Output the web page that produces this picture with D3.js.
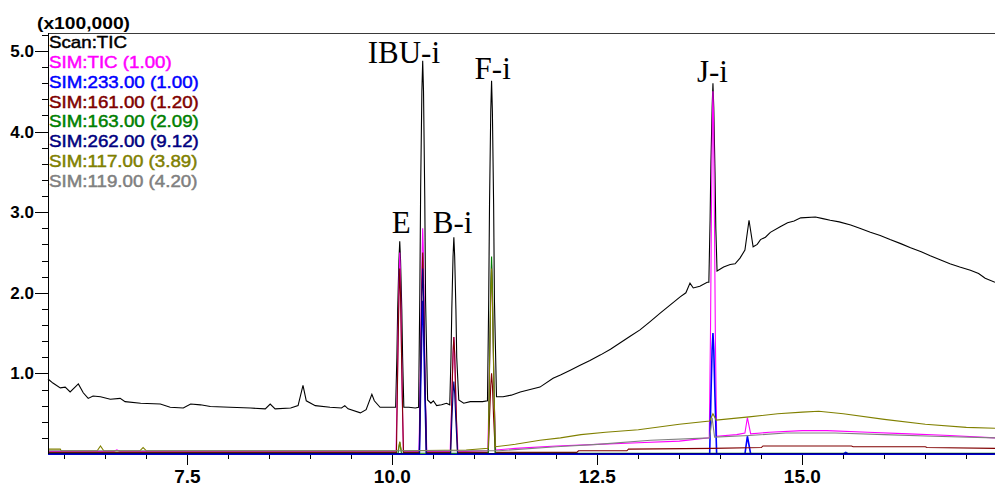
<!DOCTYPE html>
<html>
<head>
<meta charset="utf-8">
<script src="https://cdn.jsdelivr.net/npm/d3@7"></script>
<style>
  body { margin: 0; background: #fff; }
  svg { display: block; }
</style>
</head>
<body>
<svg id="chart" width="995" height="486"></svg>
<script>
// Chromatogram traces: [retention time (min), intensity (x100,000)]
const scanTIC = [
  [5.80,0.93],[5.86,0.88],[5.95,0.82],[6.01,0.83],[6.07,0.77],[6.13,0.83],[6.17,0.87],[6.23,0.76],
  [6.29,0.69],[6.35,0.72],[6.44,0.71],[6.56,0.68],[6.68,0.69],[6.74,0.65],[6.93,0.63],[7.17,0.62],
  [7.29,0.58],[7.45,0.57],[7.54,0.62],[7.66,0.61],[7.78,0.59],[8.02,0.58],[8.27,0.57],[8.45,0.56],
  [8.51,0.62],[8.57,0.56],[8.76,0.57],[8.85,0.60],[8.91,0.85],[8.95,0.66],[9.06,0.60],[9.24,0.58],
  [9.38,0.57],[9.42,0.60],[9.46,0.56],[9.61,0.51],[9.68,0.55],[9.75,0.74],[9.78,0.66],[9.85,0.58],
  [10.01,0.58],[10.04,0.58],[10.055,1.20],[10.065,1.80],[10.08,2.40],[10.09,2.64],[10.10,2.40],
  [10.115,1.80],[10.125,1.20],[10.14,0.58],[10.20,0.58],[10.28,0.57],[10.32,0.58],[10.335,2.00],
  [10.345,3.30],[10.36,4.50],[10.37,4.88],[10.38,4.50],[10.395,3.20],[10.405,1.90],[10.43,0.67],
  [10.47,0.63],[10.50,0.66],[10.54,0.60],[10.60,0.61],[10.66,0.63],[10.70,0.61],[10.715,1.20],
  [10.725,1.80],[10.74,2.45],[10.75,2.69],[10.76,2.45],[10.775,1.80],[10.785,1.20],[10.81,0.67],
  [10.87,0.63],[10.95,0.65],[11.10,0.65],[11.16,0.66],[11.175,1.90],[11.185,3.10],[11.20,4.25],
  [11.21,4.63],[11.22,4.25],[11.235,3.10],[11.245,1.90],[11.27,0.71],[11.35,0.71],[11.45,0.73],
  [11.56,0.77],[11.68,0.80],[11.80,0.83],[11.96,0.94],[12.05,0.98],[12.17,1.04],[12.29,1.10],
  [12.41,1.16],[12.54,1.23],[12.66,1.30],[12.78,1.38],[12.90,1.46],[13.02,1.54],[13.14,1.64],
  [13.27,1.75],[13.39,1.85],[13.51,1.95],[13.58,2.00],[13.63,2.12],[13.67,2.06],[13.75,2.08],
  [13.84,2.13],[13.86,2.13],[13.875,2.90],[13.885,3.60],[13.90,4.30],[13.91,4.60],[13.92,4.30],
  [13.935,3.50],[13.945,2.80],[13.96,2.27],[14.04,2.32],[14.12,2.35],[14.18,2.36],[14.24,2.43],
  [14.30,2.53],[14.35,2.90],[14.40,2.57],[14.45,2.60],[14.49,2.66],[14.55,2.69],[14.61,2.75],
  [14.73,2.82],[14.82,2.87],[14.90,2.89],[14.98,2.93],[15.16,2.94],[15.25,2.92],[15.34,2.90],
  [15.45,2.88],[15.59,2.84],[15.70,2.80],[15.83,2.75],[15.95,2.71],[16.07,2.66],[16.20,2.61],
  [16.32,2.56],[16.45,2.51],[16.56,2.46],[16.68,2.41],[16.80,2.36],[16.92,2.32],[17.05,2.28],
  [17.15,2.24],[17.23,2.18],[17.35,2.13]
];
const simTIC = [
  [5.80,0.03],[6.60,0.03],[6.64,0.05],[6.68,0.03],[10.045,0.03],[10.06,0.80],[10.07,1.50],[10.083,2.20],
  [10.09,2.50],[10.098,2.20],[10.11,1.40],[10.12,0.70],[10.135,0.03],[10.325,0.03],[10.34,0.90],
  [10.35,1.70],[10.363,2.50],[10.37,2.80],[10.378,2.50],[10.39,1.60],[10.40,0.80],[10.42,0.03],
  [10.705,0.03],[10.72,0.50],[10.73,0.90],[10.743,1.30],[10.75,1.45],[10.758,1.30],[10.77,0.85],
  [10.78,0.45],[10.80,0.03],[11.165,0.04],[11.18,0.80],[11.19,1.40],[11.203,2.10],[11.21,2.35],
  [11.218,2.10],[11.23,1.40],[11.24,0.75],[11.26,0.05],[11.50,0.07],[12.00,0.10],[12.50,0.12],
  [13.00,0.14],[13.50,0.16],[13.865,0.20],[13.88,1.50],[13.89,2.80],[13.903,4.10],[13.91,4.50],
  [13.918,4.10],[13.93,2.70],[13.94,1.40],[13.955,0.22],[14.20,0.24],[14.30,0.26],[14.33,0.45],
  [14.37,0.25],[14.60,0.27],[15.00,0.29],[15.30,0.29],[15.80,0.27],[16.30,0.25],[16.80,0.23],
  [17.35,0.20]
];
const sim233 = [
  [5.80,0.00],[10.33,0.00],[10.345,0.85],[10.36,1.60],[10.37,1.90],[10.38,1.60],[10.395,0.85],
  [10.415,0.00],[13.87,0.00],[13.885,0.70],[13.90,1.30],[13.91,1.50],[13.92,1.30],[13.935,0.70],
  [13.955,0.00],[14.30,0.00],[14.33,0.22],[14.37,0.00],[15.50,0.00],[15.53,0.02],[15.56,0.00],
  [17.35,0.00]
];
const sim161 = [
  [5.80,0.02],[10.05,0.02],[10.065,1.05],[10.08,1.95],[10.09,2.30],[10.10,1.95],[10.115,1.05],
  [10.135,0.02],[10.33,0.02],[10.345,1.10],[10.36,2.10],[10.37,2.50],[10.38,2.10],[10.395,1.10],
  [10.415,0.02],[10.71,0.02],[10.725,0.65],[10.74,1.25],[10.75,1.45],[10.76,1.25],[10.775,0.65],
  [10.795,0.02],[11.17,0.02],[11.185,0.45],[11.20,0.85],[11.21,1.00],[11.22,0.85],[11.235,0.45],
  [11.255,0.02],[12.25,0.02],[12.27,0.04],[12.86,0.04],[12.88,0.06],[13.90,0.07],[14.50,0.08],
  [14.52,0.10],[15.60,0.10],[15.62,0.09],[16.50,0.09],[16.52,0.08],[17.35,0.07]
];
const sim163 = [
  [5.80,0.01],[10.07,0.01],[10.09,0.15],[10.11,0.01],[11.17,0.01],[11.185,1.10],[11.20,2.10],
  [11.21,2.45],[11.22,2.10],[11.235,1.10],[11.255,0.01],[17.35,0.01]
];
const sim262 = [
  [5.80,0.005],[10.33,0.005],[10.345,1.00],[10.36,1.95],[10.37,2.30],[10.38,1.95],[10.395,1.00],
  [10.415,0.005],[10.71,0.005],[10.725,0.40],[10.74,0.75],[10.75,0.90],[10.76,0.75],[10.775,0.40],
  [10.795,0.005],[17.35,0.005]
];
const sim117 = [
  [5.80,0.06],[5.95,0.06],[5.96,0.04],[6.40,0.04],[6.44,0.10],[6.48,0.04],[6.92,0.04],[6.96,0.08],
  [7.00,0.04],[9.90,0.04],[10.07,0.04],[10.09,0.15],[10.11,0.04],[10.90,0.05],[11.17,0.07],
  [11.185,1.05],[11.20,1.95],[11.21,2.30],[11.22,1.95],[11.235,1.05],[11.255,0.09],[11.50,0.12],
  [11.80,0.17],[12.05,0.20],[12.30,0.24],[12.60,0.27],[13.00,0.30],[13.50,0.37],[13.87,0.41],
  [13.91,0.50],[13.95,0.42],[14.35,0.46],[14.70,0.50],[15.00,0.52],[15.20,0.53],[15.50,0.50],
  [16.00,0.43],[16.50,0.37],[17.00,0.33],[17.35,0.32]
];
const sim119 = [
  [5.80,0.04],[11.30,0.04],[12.00,0.09],[12.50,0.12],[13.15,0.17],[13.87,0.20],[13.90,0.45],
  [13.93,0.21],[14.35,0.23],[14.80,0.26],[15.40,0.26],[16.00,0.24],[16.60,0.22],[17.35,0.20]
];

// Legend entries (drawing order) and colours
const seriesNames = ["Scan:TIC", "SIM:TIC (1.00)", "SIM:233.00 (1.00)", "SIM:161.00 (1.20)",
  "SIM:163.00 (2.09)", "SIM:262.00 (9.12)", "SIM:117.00 (3.89)", "SIM:119.00 (4.20)"];
const seriesData = [scanTIC, simTIC, sim233, sim161, sim163, sim262, sim117, sim119];
const seriesColors = ["#000000", "#ff00ff", "#0000ff", "#800000", "#008000", "#000080", "#808000", "#808080"];

// Peak annotations: label and the retention time of the peak in the Scan:TIC trace
const peakLabels = ["E", "IBU-i", "B-i", "F-i", "J-i"];
const peakTimes = [10.09, 10.37, 10.75, 11.21, 13.91];

// Axis ticks
const xMajorTicks = [7.5, 10.0, 12.5, 15.0];
const yMajorTicks = [1.0, 2.0, 3.0, 4.0, 5.0];
const unitLabel = "(x100,000)";

// ---- layout ----
const svg = d3.select("#chart");
const plotLeft = 48, plotRight = 995, plotTop = 33, plotBottom = 454;

const x = d3.scaleLinear().domain([5.8, 17.35]).range([plotLeft, plotRight]);
const y = d3.scaleLinear().domain([0, 5.223]).range([plotBottom, plotTop]);

// top rule of the frame
svg.append("line").attr("x1", plotLeft).attr("x2", plotRight)
  .attr("y1", plotTop + 0.5).attr("y2", plotTop + 0.5)
  .attr("stroke", "#3a3a3a").attr("stroke-width", 1);

// traces
const line = d3.line().x(d => x(d[0])).y(d => y(d[1]));
const traces = svg.append("g").attr("fill", "none").attr("stroke-linejoin", "miter");
seriesData.forEach((data, i) => {
  traces.append("path")
    .attr("d", line(data))
    .attr("stroke", seriesColors[i])
    .attr("stroke-width", i === 2 ? 1.6 : 1.1);
});

// axes
const axes = svg.append("g").attr("stroke", "#000");
axes.append("line").attr("x1", plotLeft + 0.5).attr("x2", plotLeft + 0.5)
  .attr("y1", plotTop).attr("y2", plotBottom + 1);
axes.append("line").attr("x1", plotLeft).attr("x2", plotRight)
  .attr("y1", plotBottom + 0.5).attr("y2", plotBottom + 0.5)
  .attr("stroke", "#0000cc");

const xMinor = d3.range(6.0, 17.35, 0.5);
axes.selectAll(".xt").data(xMinor).join("line")
  .attr("x1", d => Math.round(x(d)) + 0.5).attr("x2", d => Math.round(x(d)) + 0.5)
  .attr("y1", plotBottom + 1)
  .attr("y2", d => xMajorTicks.some(m => Math.abs(m - d) < 1e-6) ? plotBottom + 11 : plotBottom + 5);

const yMinor = d3.range(1, 27).map(k => k * 0.2);
axes.selectAll(".yt").data(yMinor).join("line")
  .attr("y1", d => Math.round(y(d)) + 0.5).attr("y2", d => Math.round(y(d)) + 0.5)
  .attr("x2", plotLeft)
  .attr("x1", d => yMajorTicks.some(m => Math.abs(m - d) < 1e-6) ? plotLeft - 13 : plotLeft - 6);

const tickFont = "'Liberation Sans', Arial, sans-serif";
svg.append("g").selectAll("text").data(xMajorTicks).join("text")
  .attr("x", d => x(d)).attr("y", 483)
  .attr("text-anchor", "middle")
  .attr("font-family", tickFont).attr("font-weight", "bold").attr("font-size", 19)
  .text(d3.format(".1f"));

svg.append("g").selectAll("text").data(yMajorTicks).join("text")
  .attr("x", 34).attr("y", d => y(d) + 6)
  .attr("text-anchor", "end")
  .attr("font-family", tickFont).attr("font-weight", "bold").attr("font-size", 17)
  .text(d3.format(".1f"));

svg.append("text").attr("x", 37).attr("y", 29)
  .attr("font-family", tickFont).attr("font-size", 16).attr("font-weight", "bold")
  .attr("textLength", 93).attr("lengthAdjust", "spacingAndGlyphs")
  .text(unitLabel);

// legend, stretched horizontally to the instrument's wide sans face
const legend = svg.append("g");
const legendTexts = legend.selectAll("text").data(seriesNames).join("text")
  .attr("x", 0).attr("y", (d, i) => 48 + i * 19.85)
  .attr("font-family", tickFont).attr("font-size", 16)
  .attr("fill", (d, i) => seriesColors[i])
  .attr("stroke", (d, i) => seriesColors[i]).attr("stroke-width", 0.45)
  .text(d => d);
const refWidth = legendTexts.nodes()[2].getComputedTextLength();
legend.attr("transform", `translate(49,0) scale(${150 / refWidth},1)`);

// peak labels
const peakHeights = peakTimes.map(t => {
  const hit = scanTIC.reduce((a, b) => Math.abs(b[0] - t) < Math.abs(a[0] - t) ? b : a);
  return hit[1];
});
const labelOffsets = [[-8, -8], [-55, 2], [-21, -4], [-17, -2], [-16, -1]];
svg.append("g").selectAll("text").data(peakLabels).join("text")
  .attr("x", (d, i) => x(peakTimes[i]) + labelOffsets[i][0])
  .attr("y", (d, i) => y(peakHeights[i]) + labelOffsets[i][1])
  .attr("font-family", "'Liberation Serif', 'Times New Roman', serif")
  .attr("font-size", 31)
  .text(d => d);
</script>
</body>
</html>
